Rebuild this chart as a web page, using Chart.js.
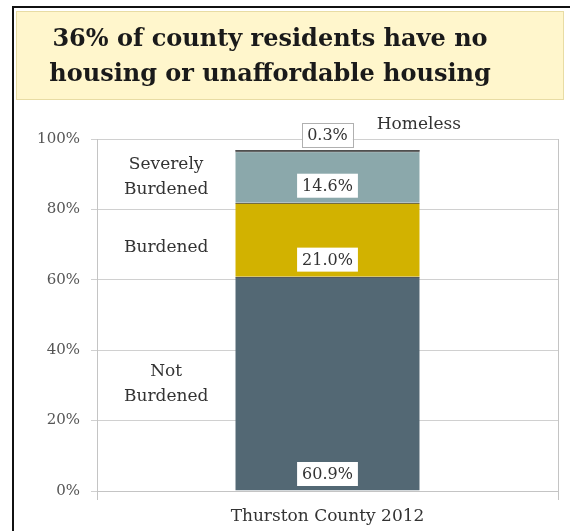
<!DOCTYPE html>
<html>
<head>
<meta charset="utf-8">
<script src="https://cdn.jsdelivr.net/npm/chart.js@4/dist/chart.umd.min.js"></script>
<style>
  html, body { margin: 0; padding: 0; background: #ffffff; }
  #wrap { position: relative; width: 570px; height: 531px; }
</style>
</head>
<body>
<div id="wrap"><canvas id="c" width="570" height="531"></canvas></div>
<script>
const titleLines = ['36% of county residents have no', 'housing or unaffordable housing'];
const categories = ['Thurston County 2012'];
const seriesNames = ['Not Burdened', 'Burdened', 'Severely Burdened', 'Homeless'];
const sideLabels = [['Not', 'Burdened'], ['Burdened'], ['Severely', 'Burdened'], null];
const notBurdened = [60.9];
const burdened = [21.0];
const severelyBurdened = [14.6];
const homeless = [0.3];
const yTicks = [0, 20, 40, 60, 80, 100];

const colors = ['#536874', '#d2b200', '#8ba8ab', '#151515'];
const serif = "'DejaVu Serif', 'Liberation Serif', serif";

const seriesValues = [notBurdened, burdened, severelyBurdened, homeless];

const decor = {
  id: 'decor',
  beforeDraw(chart) {
    const ctx = chart.ctx;
    ctx.save();
    ctx.fillStyle = '#ffffff';
    ctx.fillRect(0, 0, chart.width, chart.height);
    // outer frame
    ctx.strokeStyle = '#111';
    ctx.lineWidth = 2;
    ctx.beginPath();
    ctx.moveTo(13, chart.height + 2);
    ctx.lineTo(13, 7);
    ctx.lineTo(chart.width + 2, 7);
    ctx.stroke();
    // title box
    ctx.fillStyle = '#fff6cc';
    ctx.fillRect(16, 11, 548, 89);
    ctx.strokeStyle = '#e8dca4';
    ctx.lineWidth = 1;
    ctx.strokeRect(16.5, 11.5, 547, 88);
    ctx.fillStyle = '#1a1a1a';
    ctx.font = "bold 24px " + serif;
    ctx.textAlign = 'center';
    ctx.textBaseline = 'middle';
    ctx.fillText(titleLines[0], 270, 40);
    ctx.fillText(titleLines[1], 270, 75);
    ctx.restore();
  },
  afterDatasetsDraw(chart) {
    const ctx = chart.ctx;
    const y = chart.scales.y;
    const area = chart.chartArea;
    ctx.save();
    ctx.textAlign = 'center';
    ctx.textBaseline = 'middle';
    let cum = 0;
    const meta0 = chart.getDatasetMeta(0).data[0];
    const barLeft = meta0.x - meta0.width / 2;
    const barX = meta0.x;
    const sideX = (area.left + barLeft) / 2;
    seriesValues.forEach((arr, i) => {
      const v = arr[0];
      const base = y.getPixelForValue(cum);
      const topPx = y.getPixelForValue(cum + v);
      const txt = v.toFixed(1) + '%';
      let cy;
      let bordered = false;
      if (i === seriesValues.length - 1) {
        cy = topPx - 15;
        bordered = true;
      } else {
        cy = base - 17;
      }
      ctx.font = "16px " + serif;
      const w = ctx.measureText(txt).width + 10;
      const h = 24;
      ctx.fillStyle = '#ffffff';
      ctx.fillRect(barX - w / 2, cy - h / 2, w, h);
      if (bordered) {
        ctx.strokeStyle = '#b0b0b0';
        ctx.lineWidth = 1;
        ctx.strokeRect(Math.round(barX - w / 2) + 0.5, Math.round(cy - h / 2) + 0.5, Math.round(w), h);
      }
      ctx.fillStyle = '#333';
      ctx.fillText(txt, barX, cy + 1);
      // side labels
      const lab = sideLabels[i];
      ctx.font = "17px " + serif;
      ctx.fillStyle = '#333';
      if (lab) {
        let mid = (base + topPx) / 2;
        if (lab.length === 1) mid += 8;
        const lh = 25;
        lab.forEach((t, k) => {
          ctx.fillText(t, sideX, mid + (k - (lab.length - 1) / 2) * lh);
        });
      } else {
        ctx.textAlign = 'left';
        ctx.fillText(seriesNames[i], barX + meta0.width / 2 - 43, topPx - 26);
        ctx.textAlign = 'center';
      }
      cum += v;
    });
    ctx.restore();
  }
};

const datasets = seriesNames.map((name, i) => ({
  label: name,
  data: seriesValues[i],
  backgroundColor: colors[i],
  borderColor: '#1e1e1e',
  borderWidth: i === 3 ? 0 : { top: 1, bottom: 0, left: 0, right: 0 },
  borderSkipped: false,
  barPercentage: 0.4,
  categoryPercentage: 1.0
}));

new Chart(document.getElementById('c'), {
  type: 'bar',
  data: { labels: categories, datasets },
  options: {
    responsive: false,
    animation: false,
    devicePixelRatio: 1,
    layout: { padding: { top: 139, right: 12, left: 0, bottom: 0 } },
    plugins: { legend: { display: false }, tooltip: { enabled: false }, title: { display: false } },
    scales: {
      x: {
        stacked: true,
        offset: true,
        grid: { display: true, color: '#c4c4c4', tickLength: 9, drawOnChartArea: true, offset: true },
        border: { display: true, color: '#c4c4c4' },
        ticks: { color: '#333', font: { family: serif, size: 17 }, padding: 6 },
        afterFit(s) { s.height = 40; }
      },
      y: {
        stacked: true,
        min: 0,
        max: 100,
        afterBuildTicks(s) { s.ticks = yTicks.map(v => ({ value: v })); },
        grid: { color: '#d0d0d0', tickLength: 6 },
        border: { display: true, color: '#c4c4c4' },
        ticks: {
          color: '#555',
          font: { family: serif, size: 15 },
          padding: 11,
          callback: v => v + '%'
        },
        afterFit(s) { s.width = 97; }
      }
    }
  },
  plugins: [decor]
});
</script>
</body>
</html>
